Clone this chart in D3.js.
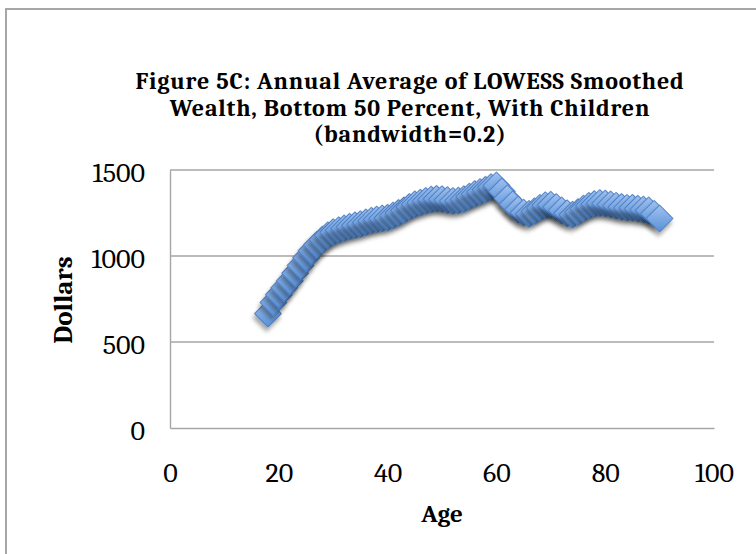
<!DOCTYPE html>
<html>
<head>
<meta charset="utf-8">
<script src="https://cdn.jsdelivr.net/npm/d3@7"></script>
<style>
  body { margin: 0; background: #fff; }
  svg { display: block; }
</style>
</head>
<body>
<svg id="chart" width="756" height="554"></svg>
<script>
// ages and LOWESS smoothed wealth
var ages = [];
for (var a = 18; a <= 90; a++) ages.push(a);
var wealth = [665, 730, 775, 815, 855, 900, 945, 990, 1030, 1065,
              1095, 1120, 1138, 1150, 1160, 1170, 1178, 1185, 1195, 1205,
              1212, 1218, 1222, 1235, 1250, 1265, 1285, 1300, 1310, 1320,
              1328, 1332, 1330, 1325, 1320, 1322, 1330, 1345, 1360, 1372,
              1385, 1400, 1410, 1375, 1335, 1300, 1270, 1252, 1245, 1260,
              1280, 1295, 1298, 1285, 1265, 1248, 1240, 1255, 1275, 1292,
              1302, 1308, 1305, 1300, 1292, 1285, 1280, 1280, 1275, 1270,
              1265, 1245, 1218];
var xTicks = [0, 20, 40, 60, 80, 100];
var yTicks = [0, 500, 1000, 1500];
var titleLines = ["Figure 5C: Annual Average of LOWESS Smoothed",
                  "Wealth, Bottom 50 Percent, With Children",
                  "(bandwidth=0.2)"];

var svg = d3.select("#chart");
var serif = "Cambria, 'Liberation Serif', 'DejaVu Serif', serif";

var x = d3.scaleLinear().domain([0, 100]).range([170, 714]);
var y = d3.scaleLinear().domain([0, 1500]).range([428, 170]);

// defs: marker gradient + shadow
var defs = svg.append("defs");
var grad = defs.append("linearGradient").attr("id", "mk")
  .attr("x1", "0%").attr("y1", "0%").attr("x2", "100%").attr("y2", "100%");
grad.append("stop").attr("offset", "0%").attr("stop-color", "#9fc2f0");
grad.append("stop").attr("offset", "100%").attr("stop-color", "#5990d8");
var f = defs.append("filter").attr("id", "sh")
  .attr("x", "-50%").attr("y", "-50%").attr("width", "200%").attr("height", "200%");
f.append("feDropShadow").attr("dx", 2).attr("dy", 4).attr("stdDeviation", 2.2)
  .attr("flood-color", "#000").attr("flood-opacity", 0.35);

// outer frame
svg.append("rect").attr("x", 6).attr("y", 9).attr("width", 770).attr("height", 570)
  .attr("fill", "none").attr("stroke", "#a6a6a6").attr("stroke-width", 2);

// title
svg.append("g").selectAll("text").data(titleLines).enter().append("text")
  .attr("x", 410).attr("y", function(d, i) { return 89 + i * 26.5; })
  .attr("text-anchor", "middle")
  .style("font-family", serif).style("font-weight", "bold").style("font-size", "24px")
  .style("letter-spacing", "0.8px")
  .text(function(d) { return d; });

// gridlines
svg.append("g").selectAll("line").data(yTicks.slice(1)).enter().append("line")
  .attr("x1", x(0)).attr("x2", x(100))
  .attr("y1", function(d) { return y(d); }).attr("y2", function(d) { return y(d); })
  .attr("stroke", "#a6a6a6").attr("stroke-width", 1.4);

// axes
var fmt = d3.format("d");
var xAxis = svg.append("g").attr("transform", "translate(0," + y(0) + ")")
  .call(d3.axisBottom(x).tickValues(xTicks).tickFormat(fmt).tickSize(0).tickPadding(44));
var yAxis = svg.append("g").attr("transform", "translate(" + x(0) + ",0)")
  .call(d3.axisLeft(y).tickValues(yTicks).tickFormat(fmt).tickSize(0).tickPadding(25));
[xAxis, yAxis].forEach(function(g) {
  g.select(".domain").attr("stroke", "#a6a6a6").attr("stroke-width", 1.4);
  g.selectAll("text").style("font-family", serif).style("font-size", "28px").attr("fill", "#000");
});
xAxis.selectAll("text").attr("dy", "0.35em");
yAxis.selectAll("text").attr("dy", "0.42em");

// axis titles
svg.append("text").attr("x", x(50)).attr("y", 522).attr("text-anchor", "middle")
  .style("font-family", serif).style("font-weight", "bold").style("font-size", "25px")
  .text("Age");
svg.append("text").attr("transform", "translate(72,300) rotate(-90)")
  .attr("text-anchor", "middle")
  .style("font-family", serif).style("font-weight", "bold").style("font-size", "27px")
  .text("Dollars");

// diamond markers
var diamond = d3.symbol().type(d3.symbolSquare).size(360);
svg.append("g").selectAll("path").data(ages).enter().append("path")
  .attr("d", diamond)
  .attr("transform", function(d, i) {
    return "translate(" + x(d) + "," + y(wealth[i]) + ") rotate(45)";
  })
  .attr("fill", "url(#mk)")
  .attr("stroke", "#4a80c6").attr("stroke-width", 1)
  .attr("filter", "url(#sh)");
</script>
</body>
</html>
